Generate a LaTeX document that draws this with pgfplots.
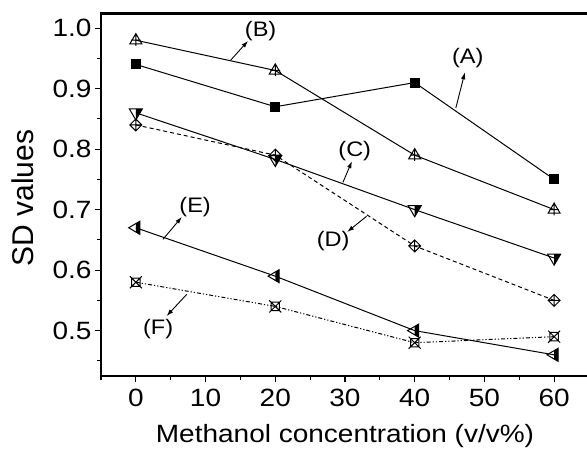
\documentclass[border=0pt]{standalone}
\usepackage{pgfplots}
\pgfplotsset{compat=1.18}
\usepackage{fontspec}
\setmainfont{Liberation Sans}
\newfontfamily\wfont{Liberation Sans}[FakeStretch=1.12]
\usetikzlibrary{arrows.meta}

\pgfdeclareplotmark{tricross}{%
 \pgfpathmoveto{\pgfqpoint{0pt}{1.1\pgfplotmarksize}}%
 \pgfpathlineto{\pgfqpoint{-\pgfplotmarksize}{-0.6\pgfplotmarksize}}%
 \pgfpathlineto{\pgfqpoint{\pgfplotmarksize}{-0.6\pgfplotmarksize}}%
 \pgfpathclose
 \pgfpathmoveto{\pgfqpoint{0pt}{1.1\pgfplotmarksize}}\pgfpathlineto{\pgfqpoint{0pt}{-0.95\pgfplotmarksize}}%
 \pgfpathmoveto{\pgfqpoint{-0.8\pgfplotmarksize}{0pt}}\pgfpathlineto{\pgfqpoint{0.8\pgfplotmarksize}{0pt}}%
 \pgfusepathqstroke}
\pgfdeclareplotmark{diacross}{%
 \pgfpathmoveto{\pgfqpoint{0pt}{\pgfplotmarksize}}%
 \pgfpathlineto{\pgfqpoint{\pgfplotmarksize}{0pt}}%
 \pgfpathlineto{\pgfqpoint{0pt}{-\pgfplotmarksize}}%
 \pgfpathlineto{\pgfqpoint{-\pgfplotmarksize}{0pt}}%
 \pgfpathclose
 \pgfpathmoveto{\pgfqpoint{0pt}{\pgfplotmarksize}}\pgfpathlineto{\pgfqpoint{0pt}{-\pgfplotmarksize}}%
 \pgfpathmoveto{\pgfqpoint{-\pgfplotmarksize}{0pt}}\pgfpathlineto{\pgfqpoint{\pgfplotmarksize}{0pt}}%
 \pgfusepathqstroke}
\pgfdeclareplotmark{halftridown}{%
 \pgfpathmoveto{\pgfqpoint{0pt}{0.6\pgfplotmarksize}}%
 \pgfpathlineto{\pgfqpoint{\pgfplotmarksize}{0.6\pgfplotmarksize}}%
 \pgfpathlineto{\pgfqpoint{0pt}{-1.1\pgfplotmarksize}}%
 \pgfpathclose
 \pgfusepathqfill
 \pgfpathmoveto{\pgfqpoint{-\pgfplotmarksize}{0.6\pgfplotmarksize}}%
 \pgfpathlineto{\pgfqpoint{\pgfplotmarksize}{0.6\pgfplotmarksize}}%
 \pgfpathlineto{\pgfqpoint{0pt}{-1.1\pgfplotmarksize}}%
 \pgfpathclose
 \pgfusepathqstroke}
\pgfdeclareplotmark{halftrileft}{%
 \pgfpathmoveto{\pgfqpoint{0pt}{0.647\pgfplotmarksize}}%
 \pgfpathlineto{\pgfqpoint{0.6\pgfplotmarksize}{\pgfplotmarksize}}%
 \pgfpathlineto{\pgfqpoint{0.6\pgfplotmarksize}{-\pgfplotmarksize}}%
 \pgfpathlineto{\pgfqpoint{0pt}{-0.647\pgfplotmarksize}}%
 \pgfpathclose
 \pgfusepathqfill
 \pgfpathmoveto{\pgfqpoint{-1.1\pgfplotmarksize}{0pt}}%
 \pgfpathlineto{\pgfqpoint{0.6\pgfplotmarksize}{\pgfplotmarksize}}%
 \pgfpathlineto{\pgfqpoint{0.6\pgfplotmarksize}{-\pgfplotmarksize}}%
 \pgfpathclose
 \pgfusepathqstroke}
\pgfdeclareplotmark{boxx}{%
 \pgfpathrectanglecorners{\pgfqpoint{-0.7\pgfplotmarksize}{-0.7\pgfplotmarksize}}{\pgfqpoint{0.7\pgfplotmarksize}{0.7\pgfplotmarksize}}%
 \pgfpathmoveto{\pgfqpoint{-\pgfplotmarksize}{-\pgfplotmarksize}}\pgfpathlineto{\pgfqpoint{\pgfplotmarksize}{\pgfplotmarksize}}%
 \pgfpathmoveto{\pgfqpoint{-\pgfplotmarksize}{\pgfplotmarksize}}\pgfpathlineto{\pgfqpoint{\pgfplotmarksize}{-\pgfplotmarksize}}%
 \pgfusepathqstroke}

\begin{document}
\begin{tikzpicture}
\useasboundingbox (0,0) rectangle (587pt,448pt);
\begin{axis}[
  at={(101pt,72pt)}, anchor=south west,
  scale only axis, width=488pt, height=363pt,
  xmin=-5, xmax=65, ymin=0.425, ymax=1.025,
  axis line style={line width=1.6pt},
  tick style={line width=1.2pt, black},
  tick align=outside,
  xtick pos=left, ytick pos=left,
  major tick length=6pt, minor tick length=4pt,
  xtick={0,10,20,30,40,50,60},
  minor xtick={-5,5,15,25,35,45,55},
  ytick={0.5,0.6,0.7,0.8,0.9,1.0},
  minor ytick={0.45,0.55,0.65,0.75,0.85,0.95},
  /pgf/number format/assume math mode=true,
  yticklabel style={/pgf/number format/.cd, fixed, fixed zerofill, precision=1},
  ticklabel style={font=\wfont\fontsize{25}{29}\selectfont},
  xticklabel style={yshift=-4pt},
  xlabel={Methanol concentration (v/v\%)},
  ylabel={SD values},
  xlabel style={font=\wfont\fontsize{25}{29}\selectfont, at={(axis description cs:0.5,0)}, anchor=base, yshift=-66pt},
  ylabel style={font=\fontsize{30}{34}\selectfont, at={(axis description cs:-0.161,0.49)}, anchor=center},
  clip=false,
]
\addplot[black, line width=1pt, mark=square*, mark size=4.5pt, mark options={solid}]
  coordinates {(0,0.94) (20,0.87) (40,0.91) (60,0.75)};
\addplot[black, line width=1pt, mark=tricross, mark size=6pt, mark options={solid, line width=1pt}]
  coordinates {(0,0.98) (20,0.93) (40,0.79) (60,0.70)};
\addplot[black, line width=1pt, mark=halftridown, mark size=6.5pt, mark options={solid, fill=black, line width=1pt}]
  coordinates {(0,0.86) (20,0.783) (40,0.70) (60,0.62)};
\addplot[black, line width=1pt, dash pattern=on 4pt off 3pt, mark=diacross, mark size=6pt, mark options={solid, line width=1pt}]
  coordinates {(0,0.84) (20,0.79) (40,0.64) (60,0.55)};
\addplot[black, line width=1pt, mark=halftrileft, mark size=6.5pt, mark options={solid, fill=black, line width=1pt}]
  coordinates {(0,0.67) (20,0.59) (40,0.50) (60,0.46)};
\addplot[black, line width=1pt, dash pattern=on 4pt off 2pt on 1.2pt off 2pt on 1.2pt off 2pt, mark=boxx, mark size=6pt, mark options={solid, line width=1pt}]
  coordinates {(0,0.58) (20,0.54) (40,0.48) (60,0.49)};

\begin{scope}[font=\wfont\fontsize{21}{25}\selectfont]
\node at (axis cs:17.9,0.995) {(B)};
\node at (axis cs:47.6,0.95) {(A)};
\node at (axis cs:31.4,0.797) {(C)};
\node at (axis cs:28.3,0.648) {(D)};
\node at (axis cs:8.5,0.704) {(E)};
\node at (axis cs:3.2,0.502) {(F)};
\end{scope}
\begin{scope}[line width=0.9pt, -{Latex[length=7pt,width=4.5pt]}]
\draw (axis cs:13.6,0.947) -- (axis cs:16.1,0.979);
\draw (axis cs:45.9,0.868) -- (axis cs:47.2,0.927);
\draw (axis cs:29.7,0.745) -- (axis cs:31.0,0.78);
\draw (axis cs:33.1,0.689) -- (axis cs:30.3,0.663);
\draw (axis cs:3.9,0.651) -- (axis cs:6.6,0.688);
\draw (axis cs:7.3,0.56) -- (axis cs:4.4,0.524);
\end{scope}
\end{axis}
\draw[line width=2.2pt] (100pt,434.5pt) -- (587pt,434.5pt);
\end{tikzpicture}
\end{document}
